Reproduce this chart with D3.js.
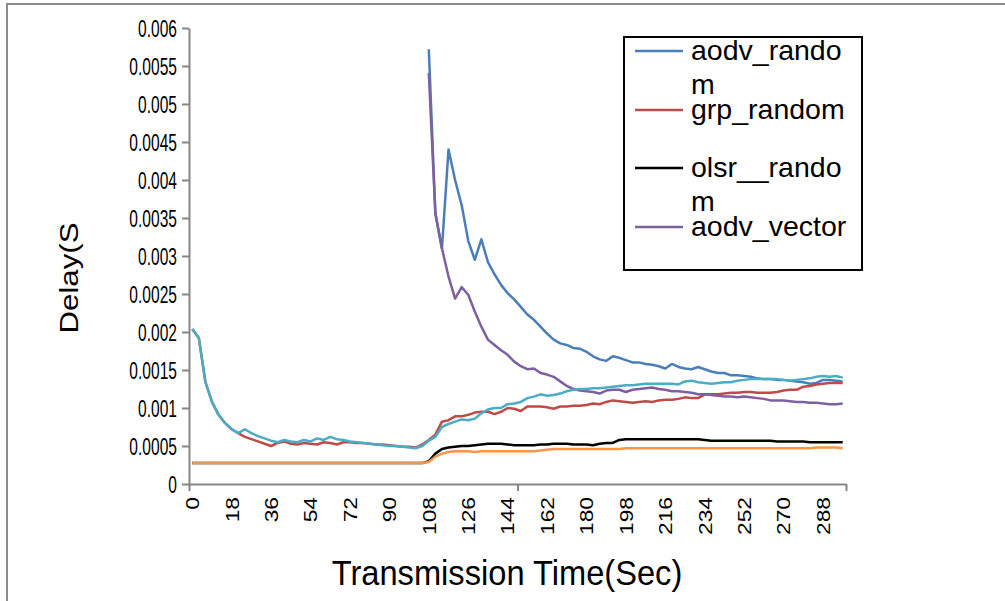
<!DOCTYPE html>
<html>
<head>
<meta charset="utf-8">
<script src="https://cdn.jsdelivr.net/npm/d3@7/dist/d3.min.js"></script>
<style>
  body { margin: 0; background: #fff; }
  svg { display: block; }
  text { font-family: Arial, "Liberation Sans", sans-serif; fill: #000; }
</style>
</head>
<body>
<svg id="chart" width="1005" height="601"></svg>
<script>
// transmission time categories (sec), one every 3 s
var times = [0,3,6,9,12,15,18,21,24,27,30,33,36,39,42,45,48,51,54,57,
  60,63,66,69,72,75,78,81,84,87,90,93,96,99,102,105,108,111,114,117,
  120,123,126,129,132,135,138,141,144,147,150,153,156,159,162,165,168,171,174,177,
  180,183,186,189,192,195,198,201,204,207,210,213,216,219,222,225,228,231,234,237,
  240,243,246,249,252,255,258,261,264,267,270,273,276,279,282,285,288,291,294,297];

var xTickLabels = ["0","18","36","54","72","90","108","126","144","162","180","198","216","234","252","270","288"];
var yTicks = [0,0.0005,0.001,0.0015,0.002,0.0025,0.003,0.0035,0.004,0.0045,0.005,0.0055,0.006];

var aodvRandom = [null,null,null,null,null,null,null,null,null,null,
  null,null,null,null,null,null,null,null,null,null,
  null,null,null,null,null,null,null,null,null,null,
  null,null,null,null,null,null,0.00572,0.00356,0.0031,0.0044,
  0.004,0.00367,0.0032,0.00295,0.00322,0.00292,0.00276,0.00262,0.00251,0.00243,
  0.00233,0.00223,0.00216,0.00207,0.00198,0.0019,0.00185,0.00183,0.00179,0.00178,
  0.00174,0.00168,0.00164,0.00162,0.00168,0.00166,0.00163,0.0016,0.0016,0.00158,
  0.00157,0.00155,0.00152,0.00158,0.00154,0.00152,0.00151,0.00154,0.00151,0.00148,
  0.00146,0.00146,0.00143,0.00143,0.00142,0.00141,0.00139,0.00138,0.00138,0.00137,
  0.00137,0.00136,0.00135,0.00134,0.00132,0.00133,0.00137,0.00137,0.00136,0.00135];

var grpRandom = [0.00204,0.00192,0.00134,0.00108,0.00091,0.0008,0.00072,0.00067,0.00062,0.00059,
  0.00056,0.00053,0.0005,0.00054,0.00056,0.00053,0.00052,0.00054,0.00053,0.00052,
  0.00055,0.00054,0.00052,0.00055,0.00055,0.00054,0.00054,0.00053,0.00052,0.00052,
  0.00051,0.0005,0.00049,0.00049,0.00048,0.00052,0.00058,0.00065,0.00082,0.00084,
  0.00089,0.00089,0.00091,0.00094,0.00095,0.00095,0.00092,0.00095,0.001,0.00099,
  0.00096,0.00102,0.00102,0.00102,0.00101,0.00099,0.00102,0.00102,0.00103,0.00103,
  0.00104,0.00106,0.00105,0.00108,0.0011,0.00109,0.00108,0.00107,0.00108,0.00109,
  0.00108,0.0011,0.00111,0.00111,0.00112,0.00114,0.00113,0.00113,0.00118,0.00118,
  0.00118,0.00119,0.0012,0.0012,0.00121,0.00121,0.0012,0.0012,0.0012,0.00121,
  0.00123,0.00124,0.00124,0.00128,0.00129,0.00131,0.00132,0.00133,0.00133,0.00133];

var olsrRandom = [0.000275,0.000275,0.000275,0.000275,0.000275,0.000275,0.000275,0.000275,0.000275,0.000275,
  0.000275,0.000275,0.000275,0.000275,0.000275,0.000275,0.000275,0.000275,0.000275,0.000275,
  0.000275,0.000275,0.000275,0.000275,0.000275,0.000275,0.000275,0.000275,0.000275,0.000275,
  0.000275,0.000275,0.000275,0.000275,0.000275,0.000275,0.0003,0.0004,0.00046,0.00048,
  0.00049,0.0005,0.0005,0.00051,0.00052,0.00053,0.00053,0.00053,0.00052,0.00051,
  0.00051,0.00051,0.00051,0.00052,0.00052,0.00053,0.00053,0.00053,0.00052,0.00052,
  0.00052,0.00051,0.00053,0.00054,0.00054,0.00058,0.00059,0.00059,0.00059,0.00059,
  0.00059,0.00059,0.00059,0.00059,0.00059,0.00059,0.00059,0.00059,0.00058,0.00057,
  0.00057,0.00057,0.00057,0.00057,0.00057,0.00057,0.00057,0.00057,0.00057,0.00056,
  0.00056,0.00056,0.00056,0.00056,0.00055,0.00055,0.00055,0.00055,0.00055,0.00055];

var aodvVector = [null,null,null,null,null,null,null,null,null,null,
  null,null,null,null,null,null,null,null,null,null,
  null,null,null,null,null,null,null,null,null,null,
  null,null,null,null,null,null,0.00541,0.00356,0.0031,0.00273,
  0.00244,0.00259,0.00249,0.00227,0.00207,0.0019,0.00183,0.00176,0.0017,0.00161,
  0.00155,0.00151,0.00152,0.00146,0.00144,0.00141,0.00135,0.00129,0.00125,0.00123,
  0.00122,0.00121,0.00119,0.00123,0.00124,0.00124,0.00121,0.00124,0.00125,0.00126,
  0.00127,0.00125,0.00124,0.00122,0.00122,0.00121,0.0012,0.00118,0.00118,0.00117,
  0.00116,0.00115,0.00115,0.00114,0.00115,0.00114,0.00113,0.00112,0.0011,0.0011,
  0.0011,0.00109,0.00108,0.00108,0.00107,0.00107,0.00106,0.00105,0.00105,0.00106];

// two more series are plotted but have no legend entry
var series5 = [0.00204,0.00192,0.00134,0.00108,0.00091,0.0008,0.00072,0.00067,0.00072,0.00067,
  0.00063,0.0006,0.00057,0.00055,0.00058,0.00056,0.00055,0.00058,0.00056,0.0006,
  0.00058,0.00062,0.00059,0.00058,0.00056,0.00055,0.00054,0.00053,0.00052,0.00051,
  0.0005,0.0005,0.00049,0.00048,0.00047,0.0005,0.00057,0.00062,0.00075,0.00079,
  0.00082,0.00085,0.00084,0.00086,0.00093,0.00098,0.001,0.001,0.00105,0.00106,
  0.00108,0.00113,0.00115,0.00118,0.00116,0.00117,0.00119,0.00122,0.00124,0.00125,
  0.00125,0.00126,0.00126,0.00127,0.00128,0.00129,0.0013,0.0013,0.00131,0.00132,
  0.00132,0.00132,0.00132,0.00132,0.00131,0.00135,0.00136,0.00134,0.00133,0.00132,
  0.00133,0.00134,0.00134,0.00136,0.00137,0.00138,0.00138,0.00138,0.00138,0.00138,
  0.00137,0.00136,0.00137,0.00138,0.00139,0.00141,0.00142,0.00141,0.00142,0.0014];

var series6 = [0.000275,0.000275,0.000275,0.000275,0.000275,0.000275,0.000275,0.000275,0.000275,0.000275,
  0.000275,0.000275,0.000275,0.000275,0.000275,0.000275,0.000275,0.000275,0.000275,0.000275,
  0.000275,0.000275,0.000275,0.000275,0.000275,0.000275,0.000275,0.000275,0.000275,0.000275,
  0.000275,0.000275,0.000275,0.000275,0.000275,0.000275,0.00029,0.00036,0.0004,0.00042,
  0.00043,0.00043,0.00043,0.00042,0.00043,0.00043,0.00043,0.00043,0.00043,0.00043,
  0.00043,0.00043,0.00043,0.00044,0.00045,0.00046,0.00046,0.00046,0.00046,0.00046,
  0.00046,0.00046,0.00046,0.00046,0.00046,0.00046,0.00047,0.00047,0.00047,0.00047,
  0.00047,0.00047,0.00047,0.00047,0.00047,0.00047,0.00047,0.00047,0.00047,0.00047,
  0.00047,0.00047,0.00047,0.00047,0.00047,0.00047,0.00047,0.00047,0.00047,0.00047,
  0.00047,0.00047,0.00047,0.00047,0.00047,0.00048,0.00048,0.00048,0.00048,0.00047];

var series = [
  {name: "aodv_random", values: aodvRandom, color: "#4A7EBB"},
  {name: "grp_random", values: grpRandom, color: "#BE4B48"},
  {name: "olsr__random", values: olsrRandom, color: "#000000"},
  {name: "aodv_vector", values: aodvVector, color: "#7D60A0"},
  {name: "series5", values: series5, color: "#4BACC6"},
  {name: "series6", values: series6, color: "#F79646"}
];

var svg = d3.select("#chart");
var plotLeft = 189, plotRight = 846, plotTop = 28, plotBottom = 484;

// outer chart border (only top/left visible)
svg.append("path")
  .attr("d", "M7,601V4H1005")
  .attr("fill", "none")
  .attr("stroke", "#8c8c8c")
  .attr("stroke-width", 2);

// category index scale, points sit in the middle of each slot
var xi = d3.scaleLinear().domain([0, times.length]).range([plotLeft, plotRight]);
var y = d3.scaleLinear().domain([0, 0.006]).range([plotBottom, plotTop]);

var yAxis = svg.append("g")
  .attr("transform", "translate(" + plotLeft + ",0)")
  .call(d3.axisLeft(y).tickValues(yTicks).tickSize(7).tickSizeOuter(0).tickFormat(""));
var xAxis = svg.append("g")
  .attr("transform", "translate(0," + plotBottom + ")")
  .call(d3.axisBottom(xi).tickValues([0, 50, 100]).tickSize(7).tickSizeOuter(0).tickFormat(""));
[yAxis, xAxis].forEach(function(a) {
  a.selectAll("path, line").attr("stroke", "#868686").attr("stroke-width", 2);
});

// y tick labels (the source picture is a bit stretched vertically)
svg.append("g").selectAll("text")
  .data(yTicks)
  .enter().append("text")
  .attr("transform", function(d) { return "translate(177," + y(d) + ") scale(0.82,1.25)"; })
  .attr("dy", "0.36em")
  .attr("text-anchor", "end")
  .style("font-size", "19px")
  .text(function(d) { return String(+d.toFixed(4)); });

// x tick labels, every 6th category
svg.append("g").selectAll("text")
  .data(xTickLabels)
  .enter().append("text")
  .attr("transform", function(d) {
    var i = times.indexOf(+d);
    return "translate(" + xi(i + 0.5) + ",497) rotate(-90) scale(1.2,1)";
  })
  .attr("dy", "0.36em")
  .attr("text-anchor", "end")
  .style("font-size", "19px")
  .text(function(d) { return d; });

svg.append("text")
  .attr("transform", "translate(78,278) rotate(-90) scale(1.2,1)")
  .attr("text-anchor", "middle")
  .style("font-size", "26px")
  .text("Delay(S");

svg.append("text")
  .attr("transform", "translate(507,585) scale(1.02,1.1)")
  .attr("text-anchor", "middle")
  .style("font-size", "32px")
  .text("Transmission Time(Sec)");

var line = d3.line()
  .defined(function(d) { return d != null; })
  .x(function(d, i) { return xi(i + 0.5); })
  .y(function(d) { return y(d); });

svg.append("g").selectAll("path")
  .data(series)
  .enter().append("path")
  .attr("fill", "none")
  .attr("stroke", function(d) { return d.color; })
  .attr("stroke-width", 2.5)
  .attr("stroke-linejoin", "round")
  .attr("d", function(d) { return line(d.values); });

// legend (text wraps like the original)
var legendRows = [
  {lines: ["aodv_rando", "m"], color: "#4A7EBB", y: 51},
  {lines: ["grp_random"], color: "#BE4B48", y: 110},
  {lines: ["olsr__rando", "m"], color: "#000000", y: 168},
  {lines: ["aodv_vector"], color: "#7D60A0", y: 227}
];
var legend = svg.append("g");
legend.append("rect")
  .attr("x", 624).attr("y", 37)
  .attr("width", 238).attr("height", 233)
  .attr("fill", "#fff")
  .attr("stroke", "#000")
  .attr("stroke-width", 2);
var rows = legend.selectAll("g.row")
  .data(legendRows)
  .enter().append("g").attr("class", "row");
rows.append("line")
  .attr("x1", 635).attr("x2", 683)
  .attr("y1", function(d) { return d.y; })
  .attr("y2", function(d) { return d.y; })
  .attr("stroke", function(d) { return d.color; })
  .attr("stroke-width", 2.5);
rows.append("text")
  .style("font-size", "28.5px")
  .selectAll("tspan")
  .data(function(d) { return d.lines.map(function(t, k) { return {t: t, y: d.y + 9 + k * 34}; }); })
  .enter().append("tspan")
  .attr("x", 691)
  .attr("y", function(d) { return d.y; })
  .text(function(d) { return d.t; });
</script>
</body>
</html>
